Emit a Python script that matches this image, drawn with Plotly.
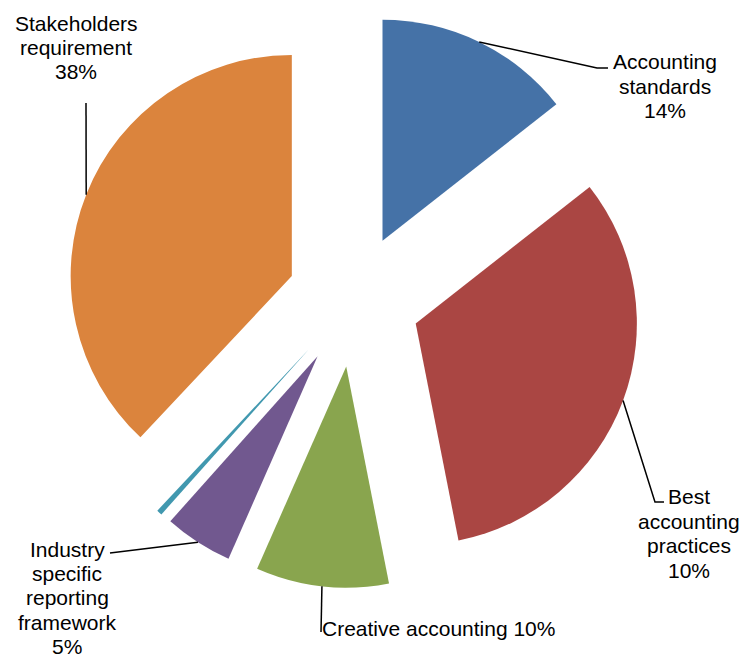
import math

import plotly.graph_objects as go

# slice sizes (clockwise from 12 o'clock)
slice_names = [
    "Accounting standards",
    "Best accounting practices",
    "Creative accounting",
    "Industry specific reporting framework",
    "Other",
    "Stakeholders requirement",
]
slice_values = [14.4, 32.5, 9.7, 5.0, 0.4, 38.0]
slice_colors = ["#4572A7", "#AA4643", "#89A54E", "#71588F", "#4198AF", "#DB843D"]

# label text exactly as printed on the chart
label_lines = [
    ["Accounting", "standards", "14%"],
    ["Best", "accounting", "practices", "10%"],
    ["Creative accounting 10%"],
    ["Industry", "specific", "reporting", "framework", "5%"],
    None,
    ["Stakeholders", "requirement", "38%"],
]

PULL = 0.3
# the page body keeps its default 8px margin, so the figure is sized to fit the window
PAGE_OFF = 8
W, H = 747 - PAGE_OFF, 657 - PAGE_OFF
L, R, T, B = 58, 106, 5, 69
PW, PH = W - L - R, H - T - B

# label placement in window pixels: text centre x, first line centre y, leader elbow points
label_pos = [
    (665, 62, [(597, 68), (608, 68)]),
    (689, 497, [(655, 502), (664, 502)]),
    (438, 628, [(321, 632)]),
    (67, 549, [(110, 553)]),
    None,
    (76, 23, [(86, 103)]),
]
LINE_GAP = 24.4


def to_paper(x, y):
    x, y = x - PAGE_OFF, y - PAGE_OFF
    return (x - L) / PW, (H - B - y) / PH


fig = go.Figure(
    go.Pie(
        labels=slice_names,
        values=slice_values,
        marker={"colors": slice_colors, "line": {"width": 0}},
        pull=[PULL] * len(slice_values),
        sort=False,
        direction="clockwise",
        rotation=0,
        textinfo="none",
        hoverinfo="label+value",
        showlegend=False,
    )
)

# pie geometry the same way plotly lays it out (window pixels)
cx, cy = PAGE_OFF + L + PW / 2, PAGE_OFF + T + PH / 2
radius = min(PW, PH) / (2 + 2 * PULL)
total = sum(slice_values)
start = 0.0
for value, lines, pos in zip(slice_values, label_lines, label_pos):
    mid = (start + value / 2) / total * 2 * math.pi
    start += value
    if lines is None:
        continue
    # leader starts at the middle of the outer arc of the pulled slice
    ax = cx + (1 + PULL) * radius * math.sin(mid)
    ay = cy - (1 + PULL) * radius * math.cos(mid)
    pts = [to_paper(ax, ay)] + [to_paper(px, py) for px, py in pos[2]]
    path = "M " + " L ".join(f"{x:.4f},{y:.4f}" for x, y in pts)
    fig.add_shape(
        type="path",
        path=path,
        xref="paper",
        yref="paper",
        line={"color": "black", "width": 1.5},
    )
    tx, ty = pos[0], pos[1]
    for i, line in enumerate(lines):
        px_, py_ = to_paper(tx, ty + i * LINE_GAP)
        fig.add_annotation(
            x=px_,
            y=py_,
            xref="paper",
            yref="paper",
            text=line,
            showarrow=False,
            xanchor="center",
            yanchor="middle",
        )

fig.update_layout(
    width=W,
    height=H,
    margin={"l": L, "r": R, "t": T, "b": B},
    paper_bgcolor="white",
    plot_bgcolor="white",
    font={"family": "Liberation Sans, Arial, sans-serif", "size": 21, "color": "black"},
)

fig.write_html("out.html")
